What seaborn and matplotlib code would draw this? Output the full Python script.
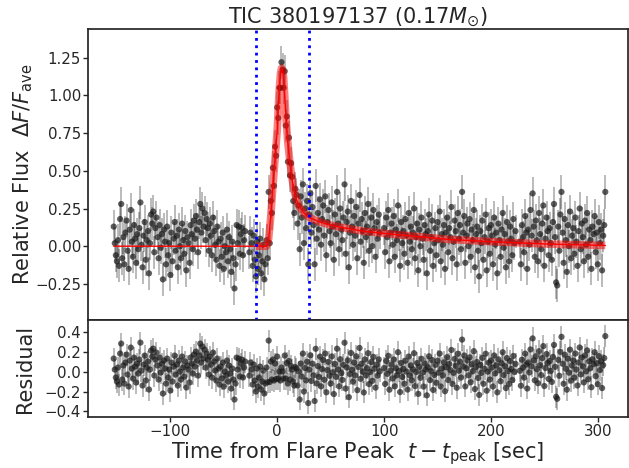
import numpy as np
import matplotlib
matplotlib.use("Agg")
import matplotlib.pyplot as plt
import seaborn as sns

# ---------------- data ----------------
# observation time segments (s from flare peak), 1-s cadence with short gaps
SEG_STARTS = [-153, -26, 100, 227]
SEG_ENDS = [-30, 96, 223, 307]
CADENCE = 1

FLUX_SEG1 = [
    0.13, 0.02, -0.06, -0.10, 0.04, -0.13, 0.18, 0.28, -0.08, 0.06,
    -0.12, 0.09, 0.17, -0.03, -0.15, 0.11, 0.24, 0.03, -0.07, 0.14,
    0.05, -0.11, 0.08, -0.02, 0.12, 0.29, 0.01, -0.14, 0.07, 0.16,
    -0.09, 0.04, 0.10, -0.18, 0.02, 0.21, 0.15, 0.23, -0.04, 0.12,
    0.19, 0.06, -0.08, 0.14, -0.01, 0.08, -0.22, 0.11, 0.03, -0.12,
    0.13, -0.06, 0.02, -0.19, 0.09, -0.10, 0.05, 0.16, -0.03, 0.07,
    -0.14, 0.11, 0.00, -0.08, 0.15, 0.04, -0.05, 0.10, -0.16, 0.06,
    0.02, -0.11, 0.14, 0.08, -0.02, 0.17, 0.05, 0.20, 0.11, -0.04,
    0.16, 0.28, 0.09, 0.25, 0.13, 0.22, 0.04, 0.18, 0.12, -0.03,
    0.15, 0.07, -0.06, 0.19, 0.10, 0.01, -0.09, 0.13, 0.03, -0.13,
    0.05, -0.07, 0.09, -0.15, 0.00, -0.04, 0.11, -0.10, 0.06, -0.02,
    -0.17, 0.03, -0.08, -0.28, -0.12, 0.14, 0.02, 0.13, -0.05, 0.08,
    0.12, -0.06, 0.04, 0.10,
]
FLUX_SEG2 = [
    -0.04, 0.09, 0.02, -0.13, 0.07, -0.09, -0.20, 0.03, -0.15, -0.06,
    0.05, -0.18, -0.10, 0.01, -0.22, -0.12, 0.04, -0.08, 0.36, 0.02,
    0.30, 0.22, 0.52, 0.40, 0.66, 0.60, 0.92, 0.85, 1.05, 1.05,
    1.22, 1.17, 1.05, 1.16, 0.80, 0.86, 0.56, 0.72, 0.47, 0.55,
    0.46, 0.30, 0.22, 0.38, 0.34, 0.15, 0.27, -0.02, 0.33, 0.19,
    0.41, 0.02, 0.25, 0.12, 0.30, -0.12, 0.21, 0.35, 0.09, 0.26,
    0.14, -0.12, 0.40, 0.05, 0.22, 0.11, 0.31, 0.01, 0.18, 0.27,
    0.07, 0.33, -0.06, 0.16, 0.24, 0.10, 0.02, 0.29, 0.13, -0.09,
    0.21, 0.08, 0.36, 0.15, -0.02, 0.25, 0.11, 0.04, 0.19, 0.41,
    -0.05, 0.16, 0.23, -0.14, 0.09, 0.30, 0.13, 0.01, 0.20, 0.07,
    0.26, -0.08, 0.15, 0.34, 0.03, 0.18, 0.10, -0.11, 0.22, 0.06,
    0.13, 0.28, -0.03, 0.09, 0.19, 0.00, 0.24, 0.12, -0.07, 0.16,
    0.05, 0.21, 0.09,
]
FLUX_SEG3 = [
    0.12, -0.04, 0.19, 0.06, 0.24, -0.10, 0.09, 0.15, 0.01, 0.20,
    -0.07, 0.11, 0.04, 0.27, 0.08, -0.13, 0.16, 0.02, 0.10, -0.05,
    0.18, 0.07, -0.11, 0.22, 0.03, 0.13, -0.02, 0.09, 0.25, -0.08,
    0.06, 0.15, -0.16, 0.11, 0.00, 0.19, 0.05, -0.09, 0.14, 0.08,
    -0.18, 0.10, 0.21, -0.03, 0.06, 0.17, -0.13, 0.02, 0.12, -0.06,
    0.16, 0.04, 0.23, -0.10, 0.08, 0.01, 0.14, -0.15, 0.09, 0.19,
    -0.04, 0.12, 0.06, 0.26, -0.08, 0.03, 0.17, 0.10, -0.12, 0.22,
    0.05, 0.14, -0.02, 0.36, 0.09, 0.20, -0.11, 0.07, 0.15, 0.00,
    0.18, -0.07, 0.11, 0.04, 0.24, -0.14, 0.08, 0.13, -0.03, -0.20,
    0.10, 0.02, 0.17, -0.09, 0.06, 0.21, -0.16, 0.03, 0.12, -0.05,
    0.14, 0.07, -0.12, 0.19, 0.01, 0.09, -0.18, 0.15, 0.04, -0.07,
    0.11, 0.22, -0.01, 0.08, -0.14, 0.16, 0.03, -0.10, 0.13, 0.05,
    -0.06, 0.18, 0.02, 0.10,
]
FLUX_SEG4 = [
    0.03, -0.12, 0.14, 0.06, -0.04, 0.20, 0.09, -0.15, 0.11, 0.01,
    0.24, 0.07, 0.35, 0.13, -0.07, 0.17, 0.04, -0.10, 0.22, 0.08,
    -0.02, 0.15, 0.27, -0.13, 0.05, 0.19, 0.10, -0.06, 0.12, 0.02,
    -0.09, 0.16, 0.28, 0.06, -0.24, -0.26, 0.13, -0.03, 0.21, 0.36,
    0.09, -0.11, 0.18, 0.04, -0.17, 0.14, 0.00, 0.23, -0.08, 0.07,
    0.12, -0.05, 0.19, 0.03, -0.13, 0.10, 0.25, -0.02, 0.15, 0.06,
    -0.10, 0.17, 0.01, 0.22, -0.07, 0.11, 0.04, -0.15, 0.13, 0.08,
    0.20, -0.04, 0.09, -0.12, 0.16, 0.02, 0.11, -0.16, 0.07, 0.14,
    0.36,
]
FLUX_ERR = 0.11

# flare model (knots)
MODEL_T = [-153, -20, -10, -8, -6, -4, -2, 0, 1, 2, 3, 4, 5, 6, 7, 8, 10, 12,
           14, 16, 18, 20, 25, 30, 40, 50, 60, 80, 100, 130, 160, 200, 250, 307]
MODEL_F = [0.0, 0.0, 0.0, 0.05, 0.2, 0.4, 0.58, 0.77, 0.92, 1.05, 1.14, 1.18,
           1.17, 1.12, 1.0, 0.87, 0.68, 0.55, 0.44, 0.36, 0.31, 0.27, 0.22,
           0.19, 0.16, 0.14, 0.125, 0.10, 0.085, 0.065, 0.045, 0.03, 0.015,
           0.005]

VLINES = [-20, 30]

TITLE = r"TIC 380197137 ($0.17M_{\odot}$)"
YLABEL = r"Relative Flux  $\Delta F/F_{\rm ave}$"
RLABEL = "Residual"
XLABEL = r"Time from Flare Peak  $t-t_{\rm peak}$ [sec]"

# ---------------- assemble ----------------
time = np.concatenate([np.arange(s, e + 1, CADENCE) for s, e in zip(SEG_STARTS, SEG_ENDS)])
flux = np.array(FLUX_SEG1 + FLUX_SEG2 + FLUX_SEG3 + FLUX_SEG4)
assert len(time) == len(flux), (len(time), len(flux))
model_t = np.array(MODEL_T, dtype=float)
model_f = np.array(MODEL_F)
resid = flux - np.interp(time, model_t, model_f)
err = np.full_like(flux, FLUX_ERR)

sns.set_theme(style="ticks")
plt.rcParams["font.family"] = ["DejaVu Sans"]
plt.rcParams["mathtext.fontset"] = "dejavusans"

fig = plt.figure(figsize=(6.29, 4.68), dpi=100)
ax = fig.add_axes([0.140, 0.316, 0.858, 0.622])
axr = fig.add_axes([0.140, 0.109, 0.858, 0.207], sharex=ax)

TICK_FS = 10.8
LAB_FS = 15

def draw_points(a, y):
    a.plot(time, y, color="0.85", lw=0.7, zorder=1)
    a.errorbar(time, y, yerr=err, fmt="none", ecolor="k", alpha=0.35,
               elinewidth=1.2, zorder=2)
    sns.scatterplot(x=time, y=y, ax=a, color="k", alpha=0.7, s=20,
                    edgecolor="none", zorder=3, legend=False)

draw_points(ax, flux)
sns.lineplot(x=model_t, y=model_f, ax=ax, color="red", lw=1.0, zorder=4,
             estimator=None, sort=False)
mask = model_t >= VLINES[0]
sns.lineplot(x=model_t[mask], y=model_f[mask], ax=ax, color="red", lw=5.5,
             alpha=0.5, zorder=5, estimator=None, sort=False,
             solid_capstyle="butt")
for v in VLINES:
    ax.axvline(v, color="blue", ls=":", lw=2, zorder=6)

draw_points(axr, resid)

ax.set_xlim(-177, 328)
ax.set_ylim(-0.49, 1.44)
axr.set_ylim(-0.455, 0.515)
ax.set_yticks([-0.25, 0.0, 0.25, 0.5, 0.75, 1.0, 1.25])
axr.set_yticks([-0.4, -0.2, 0.0, 0.2, 0.4])
axr.set_xticks([-100, 0, 100, 200, 300])
for a in (ax, axr):
    a.tick_params(labelsize=TICK_FS, length=3.5, width=1, pad=1.5)
ax.tick_params(labelbottom=False)

ax.set_title(TITLE, fontsize=LAB_FS, pad=3.5)
ax.set_ylabel(YLABEL, fontsize=LAB_FS)
axr.set_ylabel(RLABEL, fontsize=LAB_FS)
ax.yaxis.set_label_coords(-0.098, 0.5)
axr.yaxis.set_label_coords(-0.098, 0.5)
axr.set_xlabel(XLABEL, fontsize=LAB_FS)
axr.xaxis.set_label_coords(0.5, -0.24)
ax.set_xlabel("")

fig.savefig("out.png", dpi=100)
